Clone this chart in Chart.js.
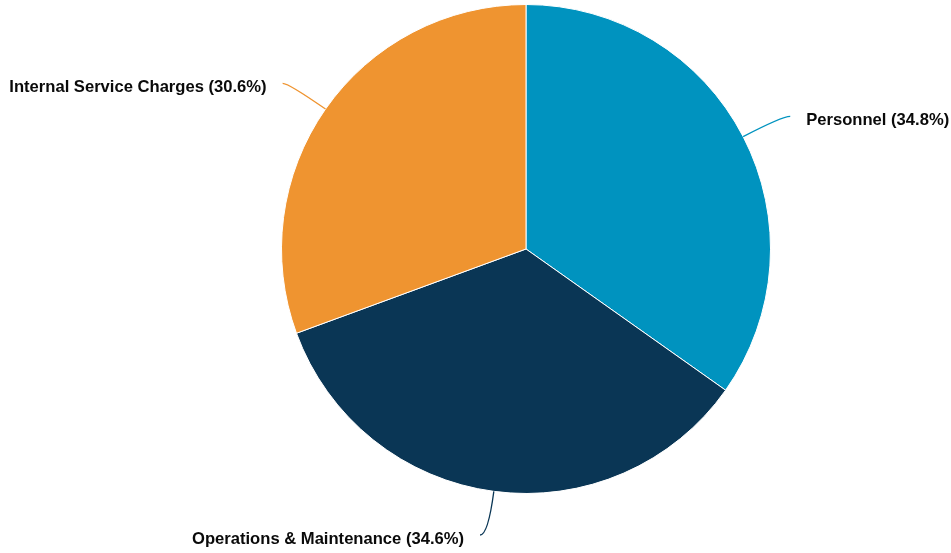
<!DOCTYPE html>
<html>
<head>
<meta charset="utf-8">
<script src="https://cdn.jsdelivr.net/npm/chart.js@4/dist/chart.umd.min.js"></script>
<style>
  html, body { margin: 0; padding: 0; background: #fff; }
  #wrap { width: 951px; height: 553px; position: relative; }
</style>
</head>
<body>
<div id="wrap"><canvas id="budgetPie"></canvas></div>
<script>
// Ausgaben nach Kategorie (Anteil in %)
const categories = ['Personnel', 'Operations & Maintenance', 'Internal Service Charges'];
const shares = [34.8, 34.6, 30.6];
const colors = ['#0093BF', '#0A3655', '#EF9430'];

// Beschriftungen mit geschwungenen Verbindungslinien
const calloutLabels = {
  id: 'calloutLabels',
  afterDatasetsDraw(chart) {
    const { ctx } = chart;
    const meta = chart.getDatasetMeta(0);
    const legs = [
      { out: 44, run: 8 },    // Personnel
      { out: 44, run: 8 },    // Operations & Maintenance
      { out: 45, run: 6 }     // Internal Service Charges
    ];
    ctx.save();
    ctx.font = 'bold 16.6px "Liberation Sans", Arial, sans-serif';
    ctx.textBaseline = 'middle';
    meta.data.forEach((arc, i) => {
      const { x, y, startAngle, endAngle, outerRadius } = arc.getProps(['x', 'y', 'startAngle', 'endAngle', 'outerRadius'], true);
      const mid = (startAngle + endAngle) / 2;
      const cos = Math.cos(mid), sin = Math.sin(mid);
      const sx = x + cos * outerRadius, sy = y + sin * outerRadius;
      const px = x + cos * (outerRadius + legs[i].out), py = y + sin * (outerRadius + legs[i].out);
      const right = cos >= 0;
      const ex = px + (right ? legs[i].run : -legs[i].run);
      const ey = py;
      ctx.strokeStyle = colors[i];
      ctx.lineWidth = 1.3;
      ctx.beginPath();
      ctx.moveTo(sx, sy);
      ctx.quadraticCurveTo(px, py, ex, ey);
      ctx.stroke();
      ctx.fillStyle = '#0a0a0a';
      ctx.textAlign = right ? 'left' : 'right';
      const text = categories[i] + ' (' + shares[i].toFixed(1) + '%)';
      ctx.fillText(text, ex + (right ? 16 : -16), ey + 4);
    });
    ctx.restore();
  }
};

new Chart(document.getElementById('budgetPie'), {
  type: 'pie',
  data: {
    labels: categories,
    datasets: [{
      data: shares,
      backgroundColor: colors,
      borderColor: '#ffffff',
      borderWidth: 1
    }]
  },
  options: {
    responsive: true,
    maintainAspectRatio: false,
    animation: false,
    layout: { padding: { top: 4, bottom: 59, left: 281, right: 180 } },
    plugins: {
      legend: { display: false },
      tooltip: { enabled: false }
    }
  },
  plugins: [calloutLabels]
});
</script>
</body>
</html>
